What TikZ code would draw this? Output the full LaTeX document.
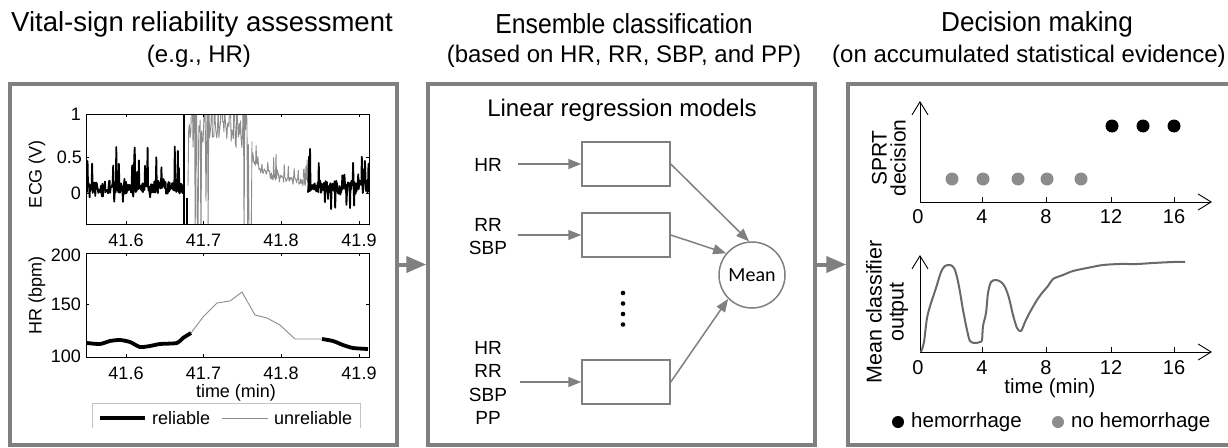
\documentclass[tikz,border=0pt]{standalone}
\usepackage{fontspec}
\setmainfont{Liberation Sans}
\newfontfamily\carlito{Carlito}
\usetikzlibrary{arrows.meta}
\definecolor{pgray}{RGB}{128,128,128}
\definecolor{lgray}{RGB}{140,140,140}
\definecolor{cgray}{RGB}{105,105,105}
\definecolor{legray}{RGB}{195,195,195}
\tikzset{
  ttl/.style={font=\fontsize{27.5}{31}\selectfont, inner sep=0pt},
  sub/.style={font=\fontsize{24}{28}\selectfont, inner sep=0pt},
  panel/.style={draw=pgray, line width=3.5pt, minimum width=387pt, minimum height=361pt, inner sep=0pt},
  bigarrow/.style={draw=pgray, line width=4pt, -{Triangle[length=20pt,width=16pt]}},
  garrow/.style={draw=pgray, line width=1.5pt, -{Triangle[length=13pt,width=10pt]}},
  model/.style={draw=pgray, line width=1.5pt, minimum width=88pt, minimum height=44pt, inner sep=0pt},
  meanc/.style={draw=pgray, line width=1.5pt, circle, minimum size=66pt, inner sep=0pt, font=\carlito\fontsize{20}{24}\selectfont},
  tl/.style={font=\fontsize{18}{21}\selectfont, inner sep=0pt},
  tlr/.style={font=\fontsize{20}{23}\selectfont, inner sep=0pt},
  inlbl/.style={font=\fontsize{19}{23.5}\selectfont, inner sep=0pt, align=center},
  axbox/.style={draw=black, line width=0.8pt},
  ecgb/.style={draw=black, line width=1.8pt, line join=round},
  ecgg/.style={draw=lgray, line width=0.9pt, line join=round},
  axis/.style={draw=black, line width=0.9pt, -{Straight Barb[length=13pt,width=16pt]}},
  p3txt/.style={font=\fontsize{20.5}{24}\selectfont, inner sep=0pt},
}
\begin{document}
\begin{tikzpicture}[x=1pt,y=-1pt]
\useasboundingbox (0,0) rectangle (1228,447);
\fill[white] (0,0) rectangle (1228,447);

% titles
\node[ttl] (t1) at (202,24) {Vital-sign reliability assessment};
\node[sub] (s1) at (199,56) {(e.g., HR)};
\node[ttl,xscale=0.9] (t2) at (624,24) {Ensemble classification};
\node[sub] (s2) at (624,56) {(based on HR, RR, SBP, and PP)};
\node[ttl,xscale=0.95] (t3) at (1037,24) {Decision making};
\node[sub] (s3) at (1029,56) {(on accumulated statistical evidence)};

% panels
\node[panel] (p1) at (203.5,264.5) {};
\node[panel] (p2) at (621.5,264.5) {};
\node[panel] (p3) at (1041.5,264.5) {};
\draw[bigarrow] (p1.east) -- (p2.west);
\draw[bigarrow] (p2.east) -- (p3.west);

% ---------- panel 1: ECG ----------
\begin{scope}
\clip (86,114) rectangle (369,224);
\pgfmathsetseed{11}
\draw[ecgb] plot[domain=86:183,samples=190] (\x,{193-79*(0.07+0.08*rand+(rnd<0.16?0.55*rnd:0)-(rnd<0.08?0.15*rnd:0))});
\draw[ecgb] (184,114) -- (184,224);
\draw[ecgb] (187,224) -- (187,198);
\draw[ecgg] plot[domain=188:252,samples=90] (\x,{193-79*(0.75+0.18*rand+(rnd<0.12?-1.3:0)+(rnd<0.25?0.5:0))});
\draw[ecgg] plot[domain=252:310,samples=100] (\x,{193-79*(0.12+0.3*exp(-(\x-252)/18)+0.05*rand+(rnd<0.2?0.3*rnd:0))});
\draw[ecgb] plot[domain=308:369,samples=120] (\x,{193-79*(0.08+0.08*rand+(rnd<0.16?0.55*rnd:0)-(rnd<0.1?0.25*rnd:0))});
\end{scope}
\draw[axbox] (86,114) rectangle (369,224);
\foreach \xx in {126,203.5,281,359}{
  \draw[line width=0.8pt] (\xx,224) -- ++(0,-3);
  \draw[line width=0.8pt] (\xx,114) -- ++(0,3);
}
\foreach \yy in {114,157,193}{
  \draw[line width=0.8pt] (86,\yy) -- ++(3,0);
  \draw[line width=0.8pt] (369,\yy) -- ++(-3,0);
}
\node[tl,anchor=east] (ey1) at (81,114) {1};
\node[tl,anchor=east] (ey2) at (82,157) {0.5};
\node[tl,anchor=east] (ey3) at (81,193) {0};
\node[tl] (ex1) at (126,240) {41.6};
\node[tl] (ex2) at (203.5,240) {41.7};
\node[tl] (ex3) at (281,240) {41.8};
\node[tl] (ex4) at (359,240) {41.9};
\node[tl,rotate=90] (eyl) at (37,174) {ECG (V)};

% ---------- panel 1: HR ----------
\draw[black, line width=3.8pt, line join=round] plot[smooth,tension=0.4] coordinates {(87,343) (100,344) (110,341) (120,340) (130,342) (140,347) (150,346) (160,344) (177,343) (183,338) (191,333)};
\draw[lgray, line width=0.9pt, line join=round] plot coordinates {(191,333) (203,317) (217,303) (230,301) (242,292) (255,315) (267,318) (280,325) (295,339) (303,339) (322,339)};
\draw[black, line width=3.8pt, line join=round] plot[smooth,tension=0.4] coordinates {(322,339) (333,341) (343,345) (353,348) (368,349)};
\draw[axbox] (86,253) rectangle (369,357);
\foreach \xx in {126,203.5,281,359}{
  \draw[line width=0.8pt] (\xx,357) -- ++(0,-3);
  \draw[line width=0.8pt] (\xx,253) -- ++(0,3);
}
\foreach \yy in {253,304,357}{
  \draw[line width=0.8pt] (86,\yy) -- ++(3,0);
  \draw[line width=0.8pt] (369,\yy) -- ++(-3,0);
}
\node[tl,anchor=east] (hy1) at (81,255) {200};
\node[tl,anchor=east] (hy2) at (81,304) {150};
\node[tl,anchor=east] (hy3) at (81,356) {100};
\node[tl] (hx1) at (126,373) {41.6};
\node[tl] (hx2) at (203.5,373) {41.7};
\node[tl] (hx3) at (281,373) {41.8};
\node[tl] (hx4) at (359,373) {41.9};
\node[tl] (hxl) at (236,393) {time (min)};
\node[tl,rotate=90] (hyl) at (37,295) {HR (bpm)};
% legend
\draw[legray, line width=1pt] (92,428) |- (360,403) -- (360,428);
\draw[black, line width=3.8pt] (100,418) -- (145,418);
\node[tl,anchor=west] (lg1) at (152,418) {reliable};
\draw[lgray, line width=0.9pt] (222,418) -- (268,418);
\node[tl,anchor=west] (lg2) at (274,418) {unreliable};

% ---------- panel 2 ----------
\node[font=\fontsize{24}{28}\selectfont, inner sep=0pt] (lrm) at (622,110) {Linear regression models};
\node[model] (m1) at (626,164) {};
\node[model] (m2) at (626,235) {};
\node[model] (m3) at (626,382) {};
\node[inlbl] (in1) at (488,165) {HR};
\node[inlbl] (in2) at (488,236.5) {RR\\SBP};
\node[inlbl] (in3) at (488,383) {HR\\RR\\SBP\\PP};
\coordinate (a1) at (518,164);
\coordinate (a2) at (518,235);
\coordinate (a3) at (520,382);
\draw[garrow] (a1) -- (m1.west);
\draw[garrow] (a2) -- (m2.west);
\draw[garrow] (a3) -- (m3.west);
\node[meanc] (mean) at (752,275) {Mean};
\draw[garrow] (m1.east) -- (mean.95);
\draw[garrow] (m2.east) -- (mean.140);
\draw[garrow] (m3.east) -- (mean.225);
\foreach \yy in {293,303.5,314,324.5}{\fill (623,\yy) circle (2.3);}

% ---------- panel 3: SPRT ----------
\coordinate (o1) at (920,202);
\coordinate (y1) at (920,101);
\coordinate (x1) at (1212,202);
\draw[axis] (o1) -- (y1);
\draw[axis] (o1) -- (x1);
\foreach \xx in {982,1046,1111,1174}{\draw[line width=0.9pt] (\xx,202) -- ++(0,-5);}
\node[tlr] (sx0) at (918,217) {0};
\node[tlr] (sx1) at (982,217) {4};
\node[tlr] (sx2) at (1046,217) {8};
\node[tlr] (sx3) at (1111,217) {12};
\node[tlr] (sx4) at (1174,217) {16};
\foreach \xx in {952,983,1018,1047,1081}{\fill[lgray] (\xx,179) circle (6.5);}
\foreach \xx in {1112,1143,1174}{\fill[black] (\xx,126) circle (6.5);}
\node[font=\fontsize{21}{19}\selectfont, inner sep=0pt, align=center, rotate=90] (sylab) at (889,158) {SPRT\\decision};

% ---------- panel 3: mean classifier ----------
\coordinate (o2) at (920,352);
\coordinate (y2) at (920,255);
\coordinate (x2) at (1212,352);
\draw[axis] (o2) -- (y2);
\draw[axis] (o2) -- (x2);
\foreach \xx in {982,1046,1111,1174}{\draw[line width=0.9pt] (\xx,352) -- ++(0,-5);}
\node[tlr] (mx0) at (918,368) {0};
\node[tlr] (mx1) at (982,368) {4};
\node[tlr] (mx2) at (1046,368) {8};
\node[tlr] (mx3) at (1111,368) {12};
\node[tlr] (mx4) at (1174,368) {16};
\node[p3txt] (mxl) at (1050,388) {time (min)};
\node[font=\fontsize{21.5}{22}\selectfont, inner sep=0pt, align=center, rotate=90] (mylab) at (887,312) {Mean classifier\\output};
\draw[cgray, line width=2pt, line join=round] plot[smooth,tension=0.5] coordinates {(921,352) (924,342) (927,318) (931,303) (936,288) (941,272) (945,266) (950,265) (954,268) (957,277) (960,292) (963,310) (967,330) (970,341) (975,343) (980,342) (982,340) (983,326) (986,313) (988,293) (991,282) (996,280) (1001,282) (1005,287) (1009,298) (1013,315) (1017,328) (1021,331) (1025,322) (1030,312) (1037,300) (1042,293) (1048,286) (1053,279) (1063,275) (1073,271) (1087,268) (1103,265) (1120,264) (1137,264) (1153,263) (1173,262) (1185,262)};
% legend
\fill[black] (898,422) circle (6);
\node[p3txt, anchor=west] (lh1) at (911,422) {hemorrhage};
\fill[lgray] (1058,422) circle (6);
\node[p3txt, anchor=west] (lh2) at (1071,422) {no hemorrhage};
\end{tikzpicture}
\end{document}
